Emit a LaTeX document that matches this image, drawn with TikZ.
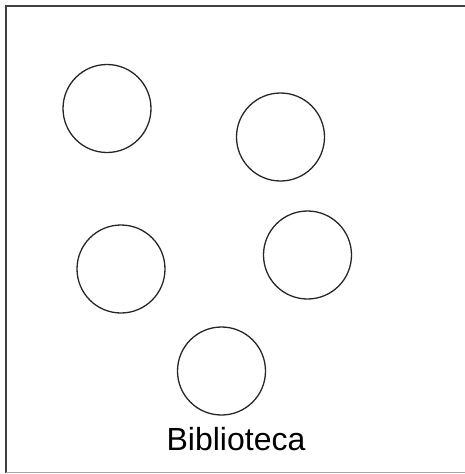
\documentclass[tikz,border=0pt]{standalone}
\usepackage{fontspec}
\setmainfont{Liberation Sans}
\begin{document}
\begin{tikzpicture}[x=1pt,y=-1pt,
  ring/.style={draw=black!85,line width=1.3pt,circle,minimum size=88pt,inner sep=0pt},
  label/.style={font=\fontsize{32}{32}\selectfont,inner sep=0pt,anchor=base}]
\useasboundingbox (0,0) rectangle (465,474);
\draw[black!75,line width=2pt] (465,5.5) -- (5.5,5.5) -- (5.5,472.5);
\draw[black!35,line width=0.8pt] (5.5,472.5) -- (465,472.5);
\node[ring] (c1) at (107,108.5) {};
\node[ring] (c2) at (280.5,137) {};
\node[ring] (c3) at (121,269) {};
\node[ring] (c4) at (307.5,255) {};
\node[ring] (c5) at (221.5,371) {};
\node[label] (lib) at (236,450) {Biblioteca};
\end{tikzpicture}
\end{document}
